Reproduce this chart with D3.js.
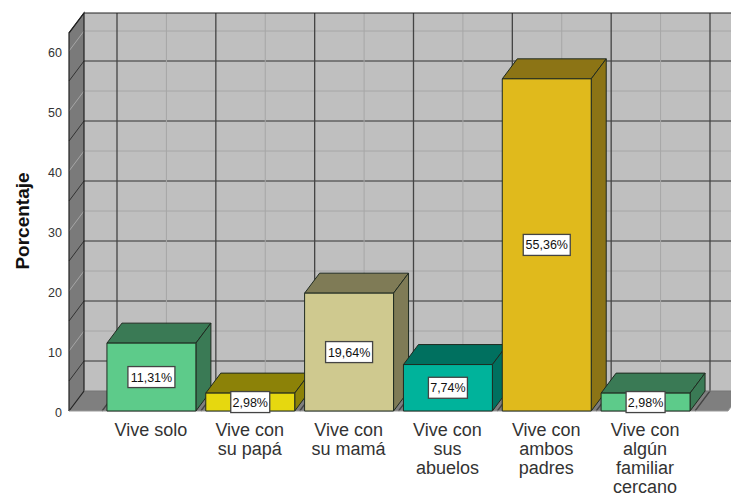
<!DOCTYPE html>
<html>
<head>
<meta charset="utf-8">
<script src="https://cdn.jsdelivr.net/npm/d3@7"></script>
<style>
  html, body { margin: 0; padding: 0; background: #fff; }
  svg { display: block; font-family: "Liberation Sans", Arial, sans-serif; }
</style>
</head>
<body>
<svg id="chart" width="731" height="495"></svg>
<script>
let categories = ["Vive solo", "Vive con su papá", "Vive con su mamá", "Vive con sus abuelos", "Vive con ambos padres", "Vive con algún familiar cercano"];
let labelLines = [["Vive solo"], ["Vive con", "su papá"], ["Vive con", "su mamá"], ["Vive con", "sus", "abuelos"], ["Vive con", "ambos", "padres"], ["Vive con", "algún", "familiar", "cercano"]];
let values = [11.31, 2.98, 19.64, 7.74, 55.36, 2.98];
let valueLabels = ["11,31%", "2,98%", "19,64%", "7,74%", "55,36%", "2,98%"];
let frontColors = ["#5dcb8a", "#e6d80f", "#cfc98f", "#00b39b", "#e0ba1c", "#5dcb8a"];
let topColors = ["#3a7a55", "#8c8208", "#7f7b56", "#00705f", "#8c7415", "#3a7a55"];
let yTicks = [0, 10, 20, 30, 40, 50, 60];
let darkLines = [5, 15, 25, 35, 45, 55];
let lightLines = [10, 20, 30, 40, 50, 60];

// depth of the 3d box
let dx = 15, dy = -20;
let yMax = 63;

let svg = d3.select("#chart");

let yScale = d3.scaleLinear().domain([0, yMax]).range([411, 33]);

let xScale = d3.scaleBand()
  .domain(categories)
  .range([102, 695])
  .paddingInner(0.1)
  .paddingOuter(0.05);

let step = xScale.step();
let left = 69, right = 728;
let y0 = yScale(0), yTop = yScale(yMax);

function pts(a) {
  return a.map(p => p.join(",")).join(" ");
}

// back wall, side wall, floor
svg.append("rect")
  .attr("x", left + dx).attr("y", yTop + dy)
  .attr("width", right - left).attr("height", y0 - yTop)
  .attr("fill", "#bfbfbf");

svg.append("polygon")
  .attr("points", pts([[left, yTop], [left + dx, yTop + dy], [left + dx, y0 + dy], [left, y0]]))
  .attr("fill", "#7a7a7a");

svg.append("polygon")
  .attr("points", pts([[left, y0], [left + dx, y0 + dy], [right + dx, y0 + dy], [right, y0]]))
  .attr("fill", "#7f7f7f");

// horizontal grid on walls
function wallLines(vals, color, width) {
  let g = svg.append("g").attr("stroke", color).attr("stroke-width", width).attr("fill", "none");
  vals.forEach(v => {
    g.append("polyline")
      .attr("points", pts([[left, yScale(v)], [left + dx, yScale(v) + dy], [right + dx, yScale(v) + dy]]));
  });
}
wallLines(lightLines, "#a6a6a6", 1);
wallLines(darkLines, "#333", 1);

// vertical grid, centres light and band edges dark
let centres = categories.map(c => xScale(c) + xScale.bandwidth() / 2);
let edges = d3.range(0, categories.length + 1).map(i => xScale.range()[0] + i * step);

let vLight = svg.append("g").attr("stroke", "#a6a6a6").attr("fill", "none");
centres.forEach(x => {
  vLight.append("polyline").attr("points", pts([[x, y0], [x + dx, y0 + dy], [x + dx, yTop + dy]]));
});
let vDark = svg.append("g").attr("stroke", "#444").attr("stroke-width", 1.3).attr("fill", "none");
edges.forEach(x => {
  vDark.append("polyline").attr("points", pts([[x, y0], [x + dx, y0 + dy], [x + dx, yTop + dy]]));
});

// frame
svg.append("polyline")
  .attr("points", pts([[left, y0], [left, yTop], [left + dx, yTop + dy], [right + dx, yTop + dy]]))
  .attr("fill", "none").attr("stroke", "#222").attr("stroke-width", 1.2);
svg.append("polyline")
  .attr("points", pts([[left, yTop], [left + dx, yTop + dy], [left + dx, y0 + dy], [left, y0]]))
  .attr("fill", "none").attr("stroke", "#222").attr("stroke-width", 1.2);
svg.append("line")
  .attr("x1", left + dx).attr("y1", y0 + dy).attr("x2", right + dx).attr("y2", y0 + dy)
  .attr("stroke", "#777");
svg.append("polyline")
  .attr("points", pts([[left, y0], [right, y0], [right + dx, y0 + dy]]))
  .attr("fill", "none").attr("stroke", "#999");

// bars
let bar = svg.selectAll(".bar")
  .data(categories)
  .enter()
  .append("g")
  .attr("class", "bar")
  .attr("stroke", "#1f2a20")
  .attr("stroke-width", 1)
  .attr("stroke-linejoin", "round");

bar.append("polygon")
  .attr("fill", (d, i) => topColors[i])
  .attr("points", (d, i) => {
    let x = xScale(d), w = xScale.bandwidth(), y = yScale(values[i]);
    return pts([[x, y], [x + dx, y + dy], [x + w + dx, y + dy], [x + w, y]]);
  });

bar.append("polygon")
  .attr("fill", (d, i) => topColors[i])
  .attr("points", (d, i) => {
    let x = xScale(d) + xScale.bandwidth(), y = yScale(values[i]);
    return pts([[x, y], [x + dx, y + dy], [x + dx, y0 + dy], [x, y0]]);
  });

bar.append("rect")
  .attr("fill", (d, i) => frontColors[i])
  .attr("x", d => xScale(d))
  .attr("y", (d, i) => yScale(values[i]))
  .attr("width", xScale.bandwidth())
  .attr("height", (d, i) => y0 - yScale(values[i]));

// value boxes
let box = svg.selectAll(".valueBox")
  .data(categories)
  .enter()
  .append("g")
  .attr("class", "valueBox")
  .attr("transform", (d, i) => {
    let x = xScale(d) + xScale.bandwidth() / 2;
    let y = (yScale(values[i]) + y0) / 2;
    return "translate(" + x + "," + y + ")";
  });

box.append("rect")
  .attr("x", (d, i) => -(valueLabels[i].length === 6 ? 23.5 : 19.5))
  .attr("y", -10.5)
  .attr("width", (d, i) => valueLabels[i].length === 6 ? 47 : 39)
  .attr("height", 21)
  .attr("fill", "#fff")
  .attr("stroke", "#444")
  .attr("stroke-width", 1.3);

box.append("text")
  .attr("text-anchor", "middle")
  .attr("y", 4.5)
  .attr("font-size", 12.5)
  .attr("fill", "#111")
  .text((d, i) => valueLabels[i]);

// y axis
let yAxis = d3.axisLeft(yScale).tickValues(yTicks).tickSize(0).tickPadding(7);
let yG = svg.append("g")
  .attr("transform", "translate(" + left + ",1)")
  .call(yAxis);
yG.select(".domain").remove();
yG.selectAll("text").attr("font-size", 12.5).attr("font-family", "Liberation Sans").attr("fill", "#333");

// x axis
let xAxis = d3.axisBottom(xScale).tickSize(0);
let xG = svg.append("g")
  .attr("transform", "translate(-0.5," + y0 + ")")
  .call(xAxis);
xG.select(".domain").remove();
xG.selectAll("text").each(function (d, i) {
  let t = d3.select(this).text(null)
    .attr("font-size", 18).attr("font-family", "Liberation Sans").attr("fill", "#333")
    .attr("y", 0).attr("dy", null);
  labelLines[i].forEach((line, j) => {
    t.append("tspan").attr("x", 0).attr("y", 25 + j * 19).text(line);
  });
});

// y axis title
svg.append("text")
  .attr("transform", "translate(29,221) rotate(-90)")
  .attr("text-anchor", "middle")
  .attr("font-size", 19)
  .attr("font-weight", "bold")
  .attr("fill", "#111")
  .text("Porcentaje");
</script>
</body>
</html>
